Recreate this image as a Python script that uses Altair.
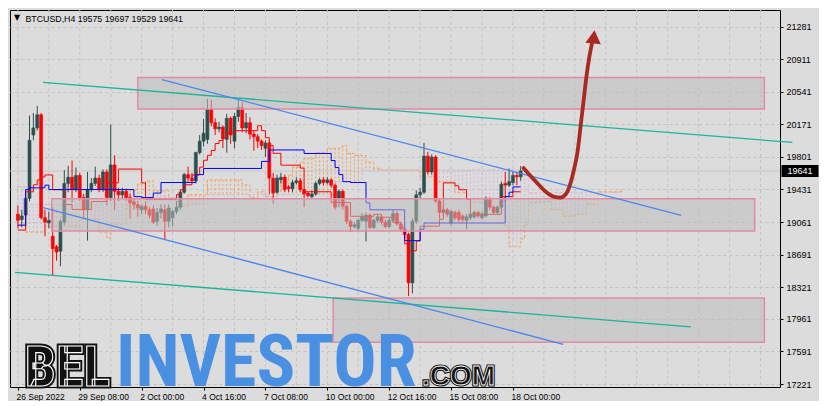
import altair as alt
import pandas as pd

# ---------------- data ----------------
opens = [19150, 19090, 19140, 19330, 20050, 20130, 20280, 19110, 19050, 18900,
         18780, 18730, 19060, 19500, 19570, 19430, 19590, 19340, 19200, 19430,
         19500, 19560, 19430, 19630, 19340, 19710, 19410, 19370, 19410, 19340,
         19290, 19260, 19200, 19240, 19200, 19210, 19070, 19170, 19200, 19070,
         19110, 19180, 19230, 19400, 19600, 19560, 19530, 19850, 19980, 20000,
         20340, 20190, 20120, 20140, 20000, 20240, 19980, 20260, 20360, 20130,
         20190, 20060, 20030, 19980, 19900, 19960, 19560, 19400, 19540, 19570,
         19460, 19440, 19510, 19530, 19430, 19390, 19350, 19380, 19500, 19540,
         19510, 19540, 19480, 19330, 19410, 19240, 19070, 19010, 18990, 19080,
         19070, 19140, 19000, 19080, 19120, 19060, 19010, 19080, 19160, 19040,
         18980, 18920, 18370, 19070, 19370, 19400, 19810, 19630, 19800, 19300,
         19170, 19200, 19050, 19170, 19170, 19130, 19080, 19110, 19120, 19170,
         19110, 19130, 19320, 19230, 19170, 19230, 19500, 19480, 19510, 19590,
         19575]
highs = [19250, 19200, 19400, 20270, 20300, 20380, 20300, 19200, 19180, 19230,
         18800, 19090, 19650, 19700, 19760, 19680, 19620, 19380, 19630, 19560,
         19690, 19600, 19660, 19660, 20170, 19820, 19450, 19450, 19440, 19380,
         19330, 19300, 19260, 19290, 19230, 19250, 19220, 19260, 19260, 19260,
         19200, 19300, 19420, 19620, 19690, 19620, 19860, 20050, 20230, 20460,
         20450, 20240, 20200, 20160, 20290, 20260, 20300, 20460, 20420, 20300,
         20250, 20100, 20060, 20000, 19990, 19990, 19620, 19600, 19620, 19600,
         19480, 19540, 19570, 19560, 19440, 19400, 19420, 19520, 19560, 19570,
         19570, 19560, 19500, 19430, 19430, 19260, 19090, 19060, 19100, 19160,
         19170, 19160, 19100, 19140, 19150, 19090, 19110, 19200, 19180, 19060,
         19000, 18940, 19100, 19420, 19450, 19960, 19860, 19830, 19820, 19320,
         19230, 19220, 19200, 19190, 19200, 19150, 19150, 19170, 19190, 19190,
         19180, 19350, 19340, 19250, 19250, 19520, 19630, 19670, 19640, 19630,
         19697]
lows = [18990, 19000, 19010, 19300, 19990, 20100, 19090, 18900, 18990, 18450,
        18620, 18560, 19030, 19400, 19280, 19400, 19300, 19100, 18850, 19400,
        19470, 19400, 19400, 19250, 19300, 19200, 19300, 19330, 19300, 19100,
        19200, 19120, 19150, 19150, 19100, 19040, 19020, 19100, 18860, 19000,
        19010, 19150, 19200, 19380, 19520, 19500, 19500, 19830, 19920, 19950,
        20150, 20050, 20080, 19900, 19850, 19950, 19900, 20200, 20080, 20070,
        20000, 19870, 19900, 19880, 19800, 19380, 19270, 19380, 19500, 19400,
        19400, 19400, 19490, 19400, 19230, 19340, 19330, 19360, 19480, 19480,
        19490, 19450, 19200, 19230, 19200, 19040, 18950, 18990, 18950, 19060,
        18840, 18980, 18980, 19050, 19030, 18990, 18990, 19050, 19020, 18950,
        18880, 18220, 18250, 19040, 19330, 19380, 19600, 19600, 19280, 19100,
        19130, 19120, 19020, 19080, 19060, 19060, 18980, 19080, 19100, 19110,
        19090, 19110, 19200, 19150, 19150, 19210, 19290, 19460, 19480, 19480,
        19529]
closes = [19080, 19130, 19330, 19990, 20130, 20280, 19110, 19060, 19080, 18760,
          18720, 19070, 19500, 19570, 19430, 19590, 19340, 19200, 19430, 19500,
          19560, 19430, 19630, 19340, 19710, 19410, 19370, 19410, 19340, 19280,
          19260, 19220, 19240, 19200, 19140, 19060, 19170, 19210, 19070, 19220,
          19180, 19230, 19400, 19600, 19560, 19530, 19850, 19980, 20070, 20340,
          20190, 20120, 20140, 20010, 20240, 20050, 20260, 20360, 20130, 20190,
          20060, 20030, 19980, 19930, 19960, 19560, 19390, 19560, 19570, 19430,
          19440, 19510, 19530, 19430, 19380, 19360, 19380, 19500, 19540, 19510,
          19540, 19480, 19230, 19410, 19240, 19070, 19010, 19030, 19080, 19120,
          19140, 19000, 19080, 19120, 19060, 19010, 19080, 19160, 19040, 18980,
          18920, 18370, 19070, 19370, 19400, 19810, 19630, 19800, 19300, 19170,
          19200, 19150, 19180, 19110, 19090, 19090, 19120, 19150, 19170, 19130,
          19150, 19320, 19230, 19170, 19230, 19490, 19480, 19520, 19590, 19575,
          19641]

# Ichimoku lines (step points: bar index, price)
tenkan_idx = [0, 2, 4, 5, 6, 7, 9, 12, 14, 19, 23, 26, 32, 33, 41, 42, 43, 45, 47, 48,
              49, 50, 51, 52, 53, 54, 56, 62, 63, 64, 65, 66, 68, 73, 74, 81, 86, 92, 94, 97,
              99, 100, 101, 103, 104, 109, 110, 113, 114, 116, 117, 125, 128, 130]
tenkan_val = [18970, 19405, 19484, 19540, 19573, 19596, 19428, 19260, 19204, 19294,
              19506, 19663, 19506, 19316, 19372, 19428, 19484, 19596, 19685, 19763,
              19819, 19875, 19953, 19987, 20020, 20076, 20099, 20155, 20099, 20020,
              19931, 19842, 19707, 19674, 19405, 19282, 19126, 19148, 19115, 19059,
              19003, 18813, 18734, 18846, 19014, 19092, 19506, 19473, 19428, 19316,
              19148, 19350, 19405, 19405]
kijun_idx = [0, 2, 3, 7, 8, 30, 32, 35, 37, 46, 48, 63, 65, 74, 81, 82, 83, 84, 86, 90,
             91, 100, 104, 105, 126, 127, 128, 130]
kijun_val = [19025, 19430, 19450, 19480, 19430, 19350, 19340, 19390, 19510, 19600,
             19670, 19750, 19880, 19840, 19760, 19680, 19600, 19520, 19510, 19280,
             19200, 18850, 18980, 19050, 19350, 19400, 19460, 19460]
span_a_idx = [0, 2, 7, 16, 21, 23, 24, 28, 29, 31, 33, 35, 39, 41, 44, 49, 58, 60, 62, 64,
              67, 68, 70, 71, 73, 74, 77, 80, 84, 85, 87, 90, 92, 94, 99, 104, 108, 113, 116, 118,
              125, 126, 127, 129, 130, 131, 132, 135, 138, 141, 144, 147, 150, 156]
span_a_val = [19036, 18947, 19014, 19092, 18947, 18880, 19036, 19260, 19428, 19495,
              19528, 19417, 19316, 19238, 19372, 19540, 19484, 19338, 19405, 19350,
              19405, 19517, 19596, 19685, 19741, 19786, 19853, 19898, 19931, 19842,
              19819, 19741, 19674, 19652, 19652, 19573, 19517, 19394, 19316, 19282,
              19204, 19014, 18780, 18780, 18870, 19036, 19282, 19294, 19204, 19126,
              19148, 19260, 19405, 19428]
span_b_idx = [0, 3, 28, 34, 41, 49, 64, 82, 89, 132, 156]
span_b_val = [19461, 19260, 19204, 19338, 19260, 19372, 19372, 19517, 19652, 19394, 19394]

# axis texts
y_ticks = [17221, 17591, 17961, 18321, 18691, 19061, 19431, 19801, 20171, 20541, 20911, 21281]
x_label_idx = [0, 16, 32, 48, 64, 80, 96, 112, 128]
x_labels = ["26 Sep 2022", "29 Sep 08:00", "2 Oct 00:00", "4 Oct 16:00", "7 Oct 08:00",
            "10 Oct 00:00", "12 Oct 16:00", "15 Oct 08:00", "18 Oct 00:00"]
grid_idx = list(range(0, 196, 8))

# drawn objects (bar index, price)
teal_lines = {"t1": [(6.5, 20647), (200.25, 19965)], "t2": [(-0.75, 18490), (174, 17870)]}
blue_lines = {"b1": [(37.25, 20680), (171.5, 19137)], "b2": [(6.5, 19226), (141, 17672)]}
rect_x1 = [31, 8.75, 81.5]
rect_x2 = [193, 190.5, 193]
rect_top = [20703, 19327, 18198]
rect_bottom = [20345, 18958, 17694]
arrow_idx = [130.75, 134, 136.5, 138.5, 140.25, 141.75, 142.75, 143.75, 144.75, 145.5, 146.25, 147, 147.75, 148.5]
arrow_val = [19674, 19517, 19405, 19350, 19338, 19383, 19484, 19652, 19875, 20155, 20434, 20714, 20938, 21106]
arrow_head = (148.9, 21165)

# ---------------- chart ----------------
W, H = 770, 377
BG = "#DCDCDC"
FONT = "Liberation Sans"
XDOM = [-0.75, 195.75]
YDOM = [17187, 21470]

expr = ""
for k, lab in zip(x_label_idx, x_labels):
    expr += f"datum.value == {k} ? '{lab}' : "
expr += "''"

xscale = alt.Scale(domain=XDOM, nice=False, zero=False)
yscale = alt.Scale(domain=YDOM, nice=False, zero=False)
xaxis = alt.Axis(values=x_label_idx, labelExpr=expr, title=None, grid=False, domain=False,
                 ticks=True, tickSize=3, tickColor="black", labelAlign="left", labelFont=FONT,
                 labelFontSize=8.5, labelColor="black", labelPadding=2, labelOverlap=False,
                 labelBound=False, labelFlush=False, labelOffset=-2)
yaxis = alt.Axis(values=y_ticks, orient="right", format="d", title=None, grid=True,
                 gridColor="#c3c3c3", gridDash=[3, 3], domain=False, tickSize=3,
                 tickColor="black", labelFont=FONT, labelFontSize=9, labelColor="black",
                 labelPadding=3, labelOverlap=False, labelBound=False, labelFlush=False)


def xenc(f):
    return alt.X(f"{f}:Q", scale=xscale, axis=xaxis)


def yenc(f):
    return alt.Y(f"{f}:Q", scale=yscale, axis=yaxis)


candles = pd.DataFrame({"i": list(range(len(opens))), "o": opens, "h": highs, "l": lows, "c": closes})
up = "datum.c >= datum.o"
BULL, BEAR = "#2F4F4F", "#FF0000"


def step_at(idx, vals, i):
    v = vals[0]
    for k, vv in zip(idx, vals):
        if k <= i:
            v = vv
    return v


cloud = pd.DataFrame({
    "i": list(range(0, 157)),
    "a": [step_at(span_a_idx, span_a_val, i) for i in range(0, 157)],
    "b": [step_at(span_b_idx, span_b_val, i) for i in range(0, 157)],
})

grid = alt.Chart(pd.DataFrame({"g": grid_idx})).mark_rule(
    color="#c3c3c3", strokeDash=[3, 3], strokeWidth=1).encode(x=xenc("g"))

bid = alt.Chart(pd.DataFrame({"p": [closes[-1]]})).mark_rule(
    color="#c6c6c6", strokeWidth=1).encode(y=yenc("p"))

hatch = alt.Chart(cloud).mark_rule(strokeDash=[2, 2], strokeWidth=1).encode(
    x=xenc("i"), y=yenc("a"), y2="b:Q",
    color=alt.condition("datum.a > datum.b", alt.value("#F4A460"), alt.value("#D4B8D4")))

span_a = alt.Chart(pd.DataFrame({"i": span_a_idx, "v": span_a_val})).mark_line(
    interpolate="step-after", color="#F4A460", strokeDash=[3, 2], strokeWidth=1).encode(
    x=xenc("i"), y=yenc("v"))
span_b = alt.Chart(pd.DataFrame({"i": span_b_idx, "v": span_b_val})).mark_line(
    interpolate="step-after", color="#D4B8D4", strokeDash=[3, 2], strokeWidth=1).encode(
    x=xenc("i"), y=yenc("v"))

wicks = alt.Chart(candles).mark_rule(strokeWidth=1).encode(
    x=xenc("i"), y=yenc("l"), y2="h:Q",
    color=alt.condition(up, alt.value(BULL), alt.value(BEAR)))
bodies = alt.Chart(candles).mark_bar(size=3, strokeWidth=0.6).encode(
    x=xenc("i"), y=yenc("o"), y2="c:Q",
    color=alt.condition(up, alt.value(BULL), alt.value(BEAR)),
    stroke=alt.condition(up, alt.value(BULL), alt.value(BEAR)))

tenkan = alt.Chart(pd.DataFrame({"i": tenkan_idx, "v": tenkan_val})).mark_line(
    interpolate="step-after", color="#FF0000", strokeWidth=1).encode(x=xenc("i"), y=yenc("v"))
kijun = alt.Chart(pd.DataFrame({"i": kijun_idx, "v": kijun_val})).mark_line(
    interpolate="step-after", color="#0000FF", strokeWidth=1).encode(x=xenc("i"), y=yenc("v"))

rects = alt.Chart(pd.DataFrame({"x1": rect_x1, "x2": rect_x2, "y1": rect_top, "y2": rect_bottom})).mark_rect(
    fill="#bdbdbd", fillOpacity=0.55, stroke="#E38AA4", strokeWidth=1.5).encode(
    x=xenc("x1"), x2="x2:Q", y=yenc("y1"), y2="y2:Q")


def lines_df(d):
    rows = []
    for name, pts in d.items():
        for k, (i, p) in enumerate(pts):
            rows.append({"name": name, "k": k, "i": i, "p": p})
    return pd.DataFrame(rows)


teal = alt.Chart(lines_df(teal_lines)).mark_line(color="#1CB59A", strokeWidth=1.3).encode(
    x=xenc("i"), y=yenc("p"), detail="name:N", order="k:Q")
blue = alt.Chart(lines_df(blue_lines)).mark_line(color="#4A86EE", strokeWidth=1.3).encode(
    x=xenc("i"), y=yenc("p"), detail="name:N", order="k:Q")

ARROW = "#A92A20"
arrow = alt.Chart(pd.DataFrame({"i": arrow_idx, "v": arrow_val})).mark_line(
    color=ARROW, strokeWidth=3.8, interpolate="monotone", strokeCap="round").encode(
    x=xenc("i"), y=yenc("v"))
head = alt.Chart(pd.DataFrame({"i": [arrow_head[0]], "v": [arrow_head[1]]})).mark_point(
    shape="triangle-up", filled=True, size=240, color=ARROW, opacity=1, angle=6).encode(
    x=xenc("i"), y=yenc("v"))


def text_layer(txt, x, y, **kw):
    return alt.Chart(pd.DataFrame({"t": [txt]})).mark_text(**kw).encode(
        text="t:N", x=alt.value(x), y=alt.value(y))


WM_FONT = "Roboto Condensed, Noto Sans Condensed, DejaVu Sans Condensed, Noto Sans CJK JP, sans-serif"
bel_a = text_layer("BEL", 14.5, 376, font=WM_FONT, fontSize=56, fontWeight="bold", align="left",
                   baseline="alphabetic", color="#111111", stroke="#111111", strokeWidth=5)
bel_b = text_layer("BEL", 14.5, 376, font=WM_FONT, fontSize=56, fontWeight="bold", align="left",
                   baseline="alphabetic", color="#111111", stroke="#ffffff", strokeWidth=1.1)
inv = text_layer("INVESTOR", 106, 376, font=WM_FONT, fontSize=72, fontWeight="bold", align="left",
                 baseline="alphabetic", color="#4A90E2")
com_a = text_layer(".COM", 412, 375, font="Liberation Sans, sans-serif", fontSize=28, fontWeight="bold",
                   align="left", baseline="alphabetic", color="#111111", stroke="#111111", strokeWidth=3)
com_b = text_layer(".COM", 412, 375, font="Liberation Sans, sans-serif", fontSize=28, fontWeight="bold",
                   align="left", baseline="alphabetic", color="#111111", stroke="#ffffff", strokeWidth=0.8)

title_txt = f"BTCUSD,H4  {opens[-1]} {highs[-1]} {lows[-1]} {closes[-1]}"
tri = text_layer("▼", 4, 8, font="DejaVu Sans", fontSize=8, align="left", baseline="middle", color="black")
title = text_layer(title_txt, 15.5, 12, font=FONT, fontSize=8.8, align="left", baseline="alphabetic", color="black")

pbox = alt.Chart(pd.DataFrame({"p": [closes[-1]]})).mark_tick(
    color="black", thickness=12, size=37, orient="horizontal", opacity=1).encode(
    y=yenc("p"), x=alt.value(W + 20))
ptxt = alt.Chart(pd.DataFrame({"p": [closes[-1]], "t": [str(closes[-1])]})).mark_text(
    color="white", font=FONT, fontSize=9, align="center", baseline="middle").encode(
    y=yenc("p"), x=alt.value(W + 20), text="t:N")

chart = alt.layer(
    grid, bid, hatch, span_a, span_b, wicks, bodies, tenkan, kijun, rects, teal, blue,
    arrow, head, bel_a, bel_b, inv, com_a, com_b, tri, title, pbox, ptxt
).properties(
    width=W, height=H, background=BG,
    padding={"left": 1, "top": 1, "right": 0, "bottom": 0}
).configure_view(stroke="black", strokeWidth=1, fill=BG)

chart.save("out.html", embed_options={"renderer": "svg", "actions": False})
